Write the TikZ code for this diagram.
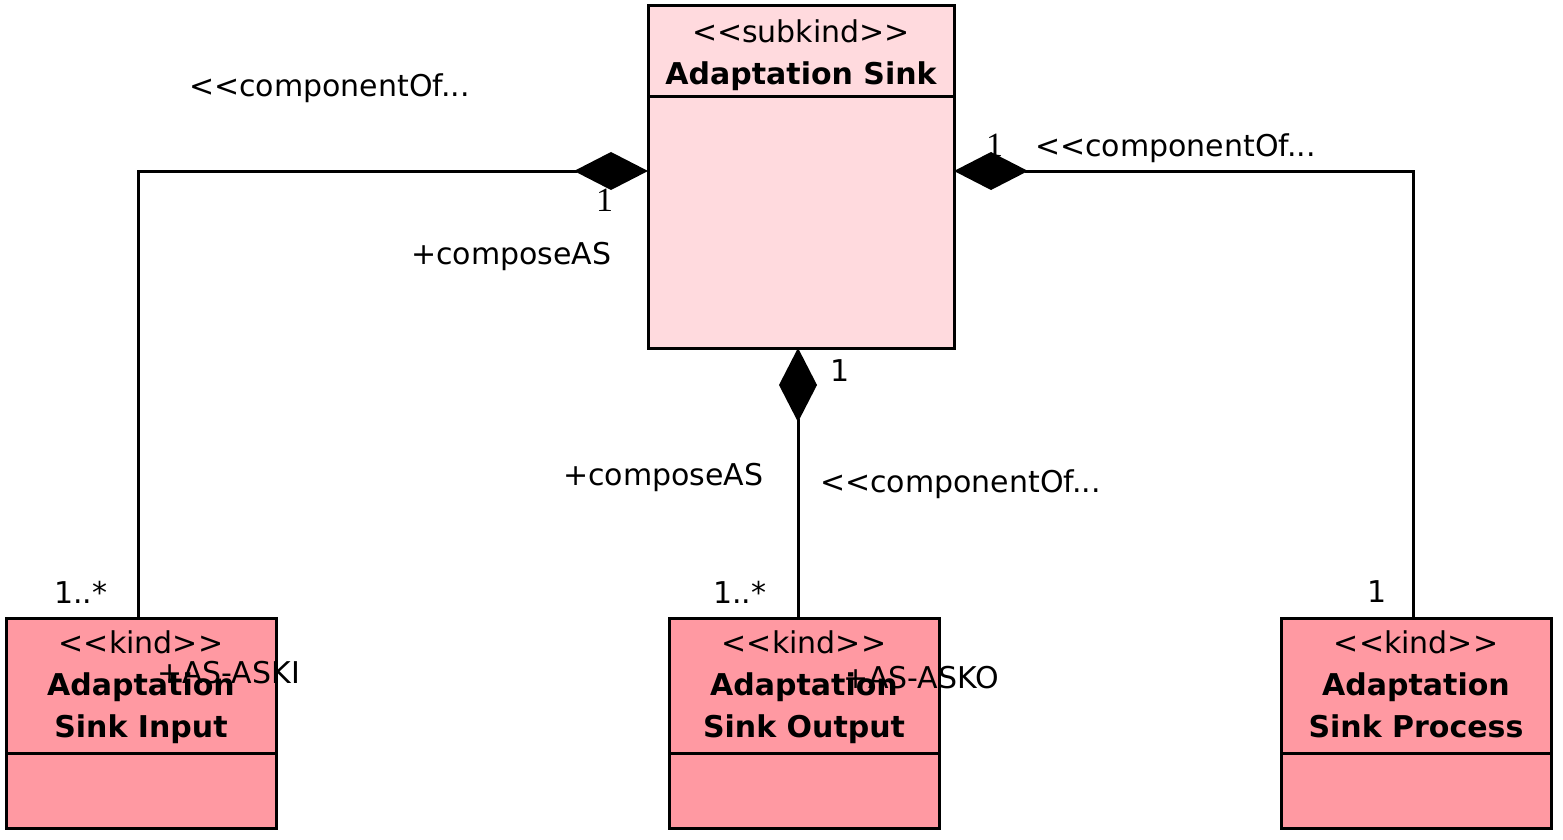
\documentclass[tikz,border=0pt]{standalone}
\usepackage{fontspec}
\setmainfont{DejaVu Sans}[Ligatures=TeXOff]
\newfontfamily\numserif{Liberation Serif}
\usetikzlibrary{arrows.meta}
\definecolor{subkindfill}{RGB}{255,218,222}
\definecolor{kindfill}{RGB}{255,153,162}
\begin{document}
\begin{tikzpicture}[x=1pt,y=-1pt,
  every node/.style={font=\fontsize{30}{42}\selectfont, inner sep=0pt, outer sep=0pt},
  cls/.style={draw, line width=3pt, minimum width=270pt, minimum height=210pt, anchor=north west, fill=kindfill},
  sep/.style={line width=3pt},
  ctr/.style={anchor=base},
  bold/.style={font=\fontsize{30}{42}\selectfont\bfseries},
  lbl/.style={anchor=base west},
  serifnum/.style={anchor=base west, font=\numserif\fontsize{34}{42}\selectfont},
  comp/.style={line width=3pt, {Diamond[length=74pt,width=38pt]}-}
]
\useasboundingbox (0,0) rectangle (1563,840);
% classes
\node[cls, fill=subkindfill, minimum width=306pt, minimum height=342pt] (as) at (648,6) {};
\draw[sep] (as.west |- 0,97) -- (as.east |- 0,97);
\node[ctr] (asst) at (as.north |- 0,43) {<<subkind>>};
\node[ctr, bold] (asname) at (as.north |- 0,85) {Adaptation Sink};

\node[cls] (aski) at (6,618) {};
\draw[sep] (aski.west |- 0,753) -- (aski.east |- 0,753);
\node[ctr] (askist) at (aski.north |- 0,653) {<<kind>>};
\node[ctr, bold] (askin1) at (aski.north |- 0,695) {Adaptation};
\node[ctr, bold] (askin2) at (aski.north |- 0,737) {Sink Input};

\node[cls] (asko) at (669,618) {};
\draw[sep] (asko.west |- 0,753) -- (asko.east |- 0,753);
\node[ctr] (askost) at (asko.north |- 0,653) {<<kind>>};
\node[ctr, bold] (askon1) at (asko.north |- 0,695) {Adaptation};
\node[ctr, bold] (askon2) at (asko.north |- 0,737) {Sink Output};

\node[cls] (asp) at (1281,618) {};
\draw[sep] (asp.west |- 0,753) -- (asp.east |- 0,753);
\node[ctr] (aspst) at (asp.north |- 0,653) {<<kind>>};
\node[ctr, bold] (aspn1) at (asp.north |- 0,695) {Adaptation};
\node[ctr, bold] (aspn2) at (asp.north |- 0,737) {Sink Process};

% connectors
\draw[comp] (as.west |- 0,171) -| ([xshift=-3pt]aski.north);
\draw[comp] (as.east |- 0,171) -| ([xshift=-3pt]asp.north);
\draw[comp] (as.south -| 798,0) -- (asko.north -| 798,0);

% labels
\node[lbl] (l1) at (189,97) {<<componentOf...};
\node[serifnum] (l2) at (596,211) {1};
\node[lbl] (l3) at (411,264) {+composeAS};
\node[lbl] (l4) at (54,603) {1..*};
\node[lbl] (l5) at (157,683) {+AS-ASKI};

\node[serifnum] (r1) at (986,157) {1};
\node[lbl] (r2) at (1035,157) {<<componentOf...};
\node[lbl] (r3) at (1367,602) {1};

\node[lbl] (m1) at (830,381) {1};
\node[lbl] (m2) at (563,485) {+composeAS};
\node[lbl] (m3) at (820,492) {<<componentOf...};
\node[lbl] (m4) at (713,603) {1..*};
\node[lbl] (m5) at (843,688) {+AS-ASKO};
\end{tikzpicture}
\end{document}
